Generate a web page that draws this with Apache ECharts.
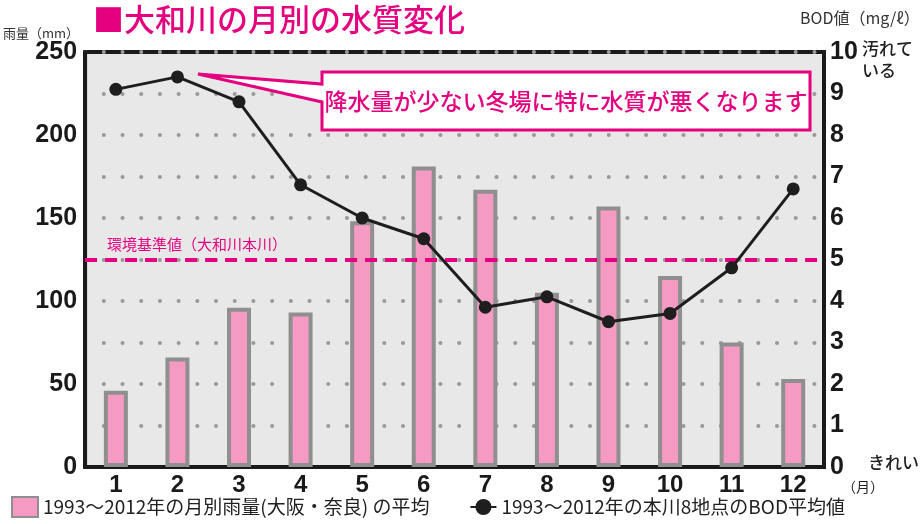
<!DOCTYPE html>
<html>
<head>
<meta charset="utf-8">
<script src="https://cdn.jsdelivr.net/npm/echarts@6/dist/echarts.min.js"></script>
<style>
  html, body { margin: 0; padding: 0; background: #fff; }
  #chart { width: 924px; height: 524px; }
</style>
</head>
<body>
<div id="chart"></div>
<script>
// 月
var months = ['1', '2', '3', '4', '5', '6', '7', '8', '9', '10', '11', '12'];
// 1993～2012年の月別雨量(大阪・奈良)の平均 (mm)
var rainfall = [46, 66, 96, 93, 148, 181, 167, 105, 157, 115, 75, 53];
// 1993～2012年の本川8地点のBOD平均値 (mg/ℓ)
var bod = [9.1, 9.4, 8.8, 6.8, 6.0, 5.5, 3.85, 4.1, 3.5, 3.7, 4.8, 6.7];
// 環境基準値（大和川本川）
var standardBod = 5;

var FONT = '"Liberation Sans", Arial, sans-serif';
var JP = '"Noto Sans CJK JP", sans-serif';
var MAGENTA = '#e4007f';

var chart = echarts.init(document.getElementById('chart'));

var option = {
  animation: false,
  backgroundColor: '#fff',
  textStyle: { fontFamily: JP },
  grid: {
    left: 84, right: 100, top: 52, bottom: 57,
    show: true,
    backgroundColor: '#e8e8e8',
    borderColor: '#1a1a1a',
    borderWidth: 4
  },
  legend: {
    left: 6,
    bottom: 1,
    itemGap: 40,
    itemWidth: 26,
    itemHeight: 20,
    textStyle: { fontFamily: JP, fontSize: 19, color: '#222' },
    data: [
      { name: '1993～2012年の月別雨量(大阪・奈良) の平均', icon: 'rect' },
      { name: '1993～2012年の本川8地点のBOD平均値' }
    ]
  },
  xAxis: {
    type: 'category',
    data: months,
    axisLine: { lineStyle: { color: '#1a1a1a', width: 4 } },
    axisTick: { inside: true, length: 7, lineStyle: { color: '#1a1a1a', width: 3 } },
    axisLabel: { fontFamily: FONT, fontWeight: 'bold', fontSize: 24, color: '#1a1a1a', margin: 6 }
  },
  yAxis: [{
    type: 'value',
    min: 0, max: 250, interval: 25,
    name: '雨量（mm）',
    nameGap: 10,
    nameTextStyle: { fontFamily: JP, fontSize: 13, color: '#333', align: 'right', padding: [0, 6, 0, 0] },
    axisLine: { show: true, lineStyle: { color: '#1a1a1a', width: 4 } },
    axisTick: { show: false },
    axisLabel: {
      fontFamily: FONT, fontWeight: 'bold', fontSize: 25, color: '#1a1a1a', margin: 8,
      formatter: function (v) { return v % 50 === 0 ? v : ''; }
    },
    splitLine: { lineStyle: { color: '#9a9a9a', width: 4, type: [0.1, 18.6], cap: 'round' } }
  }, {
    type: 'value',
    min: 0, max: 10, interval: 1,
    name: 'BOD値（mg/ℓ）',
    nameGap: 26,
    nameTextStyle: { fontFamily: JP, fontSize: 16, color: '#333', align: 'left', padding: [0, 0, 0, -24] },
    axisLine: { show: true, lineStyle: { color: '#1a1a1a', width: 4 } },
    axisTick: { show: false },
    axisLabel: { fontFamily: FONT, fontWeight: 'bold', fontSize: 25, color: '#1a1a1a', margin: 6 },
    splitLine: { show: false }
  }],
  series: [{
    name: '1993～2012年の月別雨量(大阪・奈良) の平均',
    type: 'bar',
    yAxisIndex: 0,
    barWidth: 24,
    data: rainfall,
    itemStyle: { color: '#f59ac3', borderColor: '#8f8f8f', borderWidth: 4 }
  }, {
    name: '1993～2012年の本川8地点のBOD平均値',
    type: 'line',
    yAxisIndex: 1,
    data: bod,
    symbol: 'circle',
    symbolSize: 13,
    lineStyle: { color: '#1e1e1e', width: 3 },
    itemStyle: { color: '#1e1e1e' },
    markLine: {
      silent: true,
      symbol: 'none',
      lineStyle: { color: MAGENTA, width: 4, type: [12, 8] },
      label: {
        position: 'insideStartTop',
        formatter: '環境基準値（大和川本川）',
        color: MAGENTA, fontFamily: JP, fontSize: 15, distance: [22, 8]
      },
      data: [{ yAxis: standardBod }]
    },
    z: 5
  }],
  graphic: [
    {
      type: 'text', left: 93, top: 4,
      style: { text: '■大和川の月別の水質変化', fill: MAGENTA, font: '500 31px ' + JP }
    },
    {
      type: 'polygon', z: 10,
      shape: { points: [[322, 72], [810, 72], [810, 130], [322, 130], [322, 102], [198, 74], [322, 84]] },
      style: { fill: '#fff', stroke: MAGENTA, lineWidth: 3 }
    },
    {
      type: 'text', z: 11, x: 566, y: 101,
      style: { text: '降水量が少ない冬場に特に水質が悪くなります', fill: MAGENTA, font: '500 23px ' + JP, align: 'center', verticalAlign: 'middle' }
    },
    {
      type: 'text', left: 862, top: 38,
      style: { text: '汚れて\nいる', fill: '#222', font: '500 17px ' + JP, lineHeight: 22 }
    },
    {
      type: 'text', left: 868, top: 454,
      style: { text: 'きれい', fill: '#222', font: '500 17px ' + JP }
    },
    {
      type: 'text', left: 842, top: 480,
      style: { text: '（月）', fill: '#222', font: '14px ' + JP }
    }
  ]
};

chart.setOption(option);
</script>
</body>
</html>
